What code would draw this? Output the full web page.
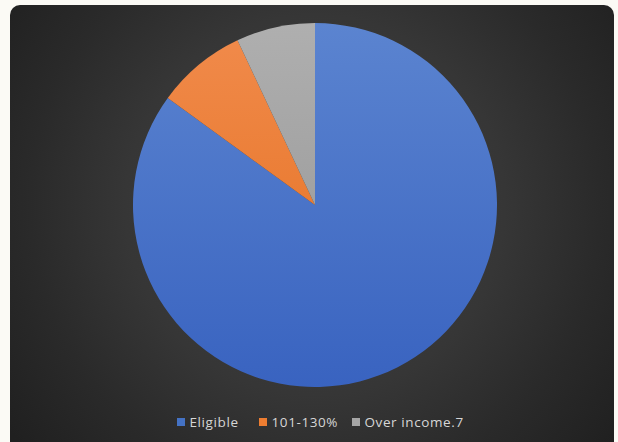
<!DOCTYPE html>
<html>
<head>
<meta charset="utf-8">
<script src="https://cdn.jsdelivr.net/npm/d3@7"></script>
<style>
  html, body { margin: 0; padding: 0; background: #fbfaf5; }
  svg { display: block; }
</style>
</head>
<body>
<div id="chart"></div>
<script>
const categories = ['Eligible', '101-130%', 'Over income.7']
const values = [85, 8, 7]
const colors = [
  ['#5b84d0', '#3963c0'],
  ['#f18b4c', '#e36d1b'],
  ['#afafaf', '#929292']
]
const swatches = ['#4472c4', '#ed7d31', '#a5a5a5']

const width = 618
const height = 442
const cx = 315
const cy = 205
const radius = 182

const svg = d3
  .select('#chart')
  .append('svg')
  .attr('width', width)
  .attr('height', height)

const defs = svg.append('defs')

const bg = defs
  .append('radialGradient')
  .attr('id', 'bg')
  .attr('gradientUnits', 'userSpaceOnUse')
  .attr('cx', cx)
  .attr('cy', cy)
  .attr('r', 380)
bg.append('stop').attr('offset', 0).attr('stop-color', '#424242')
bg.append('stop').attr('offset', 0.5).attr('stop-color', '#363636')
bg.append('stop').attr('offset', 0.75).attr('stop-color', '#2a2a2a')
bg.append('stop').attr('offset', 1).attr('stop-color', '#202020')

colors.forEach(function(c, i) {
  const g = defs
    .append('linearGradient')
    .attr('id', 'slice' + i)
    .attr('gradientUnits', 'userSpaceOnUse')
    .attr('x1', 0)
    .attr('y1', -radius)
    .attr('x2', 0)
    .attr('y2', radius)
  g.append('stop').attr('offset', 0).attr('stop-color', c[0])
  g.append('stop').attr('offset', 1).attr('stop-color', c[1])
})

// panel
svg
  .append('rect')
  .attr('x', 10)
  .attr('y', 5)
  .attr('width', 604)
  .attr('height', 460)
  .attr('rx', 10)
  .attr('fill', 'url(#bg)')

const pie = d3
  .pie()
  .sort(null)
  .value(d => d)

const arc = d3
  .arc()
  .innerRadius(0)
  .outerRadius(radius)

svg
  .append('g')
  .attr('transform', 'translate(' + cx + ',' + cy + ')')
  .selectAll('path')
  .data(pie(values))
  .enter()
  .append('path')
  .attr('d', arc)
  .attr('fill', (d, i) => 'url(#slice' + i + ')')

// legend
const legendX = [177, 259, 352]
const legend = svg
  .append('g')
  .selectAll('g')
  .data(categories)
  .enter()
  .append('g')
  .attr('transform', (d, i) => 'translate(' + legendX[i] + ',418)')

legend
  .append('rect')
  .attr('width', 8)
  .attr('height', 8)
  .attr('fill', (d, i) => swatches[i])

legend
  .append('text')
  .attr('x', 12.5)
  .attr('y', 9)
  .attr('fill', '#d6d6d6')
  .style('font-family', 'Open Sans, sans-serif')
  .style('font-size', '13.5px')
  .style('letter-spacing', '0.6px')
  .text(d => d)
</script>
</body>
</html>
